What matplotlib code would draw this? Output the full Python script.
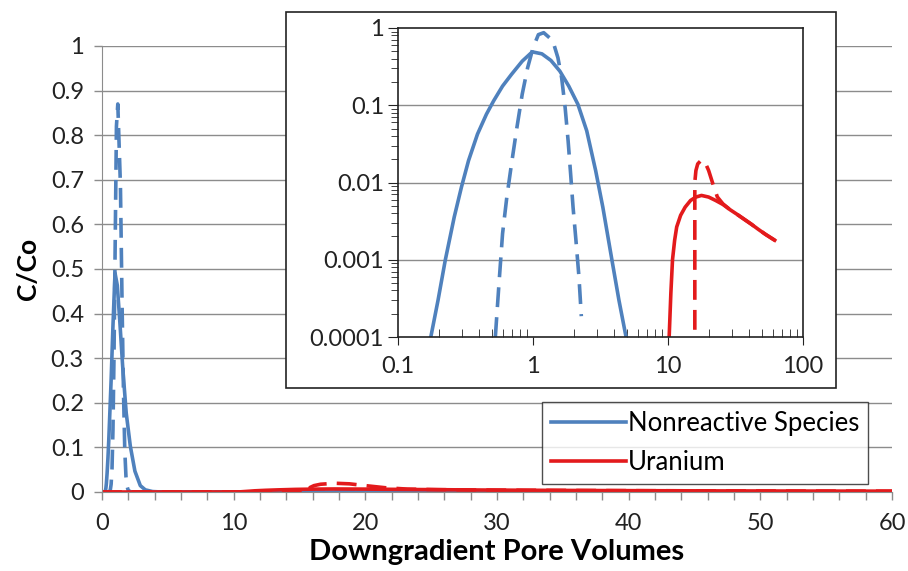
import numpy as np
import matplotlib
matplotlib.use("Agg")
import matplotlib.pyplot as plt
from matplotlib.patches import Rectangle
from matplotlib.lines import Line2D
from matplotlib.ticker import (MultipleLocator, FixedLocator, FixedFormatter, LogLocator,
                               NullFormatter, FuncFormatter)

plt.rcParams['font.family'] = ['Lato', 'DejaVu Sans']

# breakthrough curves: pore volumes vs C/Co
pv_nr_sim = [0.175, 0.198, 0.224, 0.261, 0.295, 0.333, 0.388, 0.452, 0.511, 0.595, 0.693,
             0.832, 0.988, 1.164, 1.358, 1.58, 1.84, 2.15, 2.50, 2.91, 3.29, 3.84, 4.33, 4.89]
cc_nr_sim = [1e-4, 3.0e-4, 0.00099, 0.00358, 0.0087, 0.0192, 0.0423, 0.0766, 0.114, 0.177, 0.251,
             0.372, 0.491, 0.463, 0.38, 0.277, 0.177, 0.103, 0.0467, 0.0143, 0.0048, 0.001, 3.0e-4, 1e-4]

pv_nr_obs = [0.526, 0.56, 0.595, 0.64, 0.693, 0.76, 0.832, 0.912, 1.0, 1.096, 1.2, 1.40, 1.53,
             1.63, 1.73, 1.82, 1.90, 1.98, 2.08, 2.19, 2.28]
cc_nr_obs = [1e-4, 4.95e-4, 0.00218, 0.00648, 0.0174, 0.0515, 0.139, 0.305, 0.553, 0.82, 0.87,
             0.687, 0.411, 0.227, 0.0933, 0.0347, 0.0129, 0.0048, 0.00179, 6.0e-4, 1.86e-4]

pv_u_sim = [10.2, 10.5, 10.8, 11.2, 11.6, 12.4, 13.4, 14.7, 16.1, 17.7, 20.0, 22.5, 25.5, 28.8,
            32.5, 36.7, 41.5, 46.9, 53.0, 61.7]
cc_u_sim = [1e-4, 3.7e-4, 0.001, 0.00179, 0.00266, 0.00376, 0.0048, 0.00586, 0.00648, 0.0068,
            0.00648, 0.00586, 0.0052, 0.00445, 0.00387, 0.00334, 0.00288, 0.00246, 0.00212, 0.00179]

pv_u_obs = [15.8, 15.8, 16.1, 16.6, 17.7, 18.8, 20.0, 21.5, 23.2, 25.5, 28.8, 32.5, 36.7, 41.5,
            46.9, 53.0, 61.7]
cc_u_obs = [1.24e-4, 0.0101, 0.0143, 0.0174, 0.0196, 0.0183, 0.0143, 0.0096, 0.0065, 0.0053,
            0.00445, 0.00387, 0.00334, 0.00288, 0.00246, 0.00212, 0.00179]

blue = '#4F81BD'
red = '#E31A1C'
grid_c = '#8C8C8C'
ink = '#222222'
lw = 2.6
dash = (5.5, 2.8)
tick_fs = 17

W, H = 908, 571
fig = plt.figure(figsize=(W / 100, H / 100), dpi=100)

def px_axes(l, t, r, b):
    return [l / W, 1 - b / H, (r - l) / W, (b - t) / H]

# ---- main linear plot
ax = fig.add_axes(px_axes(102, 46, 892, 492), zorder=0)
ax.plot([0] + pv_nr_sim + [60], [0] + cc_nr_sim + [0], color=blue, lw=lw)
ax.plot([0] + pv_nr_obs + [60], [0] + cc_nr_obs + [0], color=blue, lw=lw, dashes=dash)
ax.plot([0] + pv_u_obs + [60], [0] + cc_u_obs + [0], color=red, lw=lw, dashes=dash)
ax.plot([0] + pv_u_sim + [60], [0] + cc_u_sim + [0], color=red, lw=lw)
ax.set_xlim(0, 60)
ax.set_ylim(0, 1)
ax.xaxis.set_major_locator(MultipleLocator(10))
ax.xaxis.set_minor_locator(MultipleLocator(2))
ax.yaxis.set_major_locator(MultipleLocator(0.1))
ax.yaxis.set_major_formatter(FuncFormatter(lambda v, p: f"{v:g}"))
ax.grid(axis='y', color=grid_c, lw=1.0)
ax.set_axisbelow(True)
for s in ['top', 'right']:
    ax.spines[s].set_visible(False)
for s in ['left', 'bottom']:
    ax.spines[s].set_color(grid_c)
ax.tick_params(which='both', direction='out', color=grid_c, width=1.0, length=6)
ax.tick_params(axis='y', which='major', labelsize=tick_fs, pad=7, labelcolor=ink)
ax.tick_params(axis='x', which='major', labelsize=tick_fs, pad=9, labelcolor=ink)
ax.set_xlabel('Downgradient Pore Volumes', fontsize=21, fontweight='bold', labelpad=4)
ax.set_ylabel('C/Co', fontsize=19, fontweight='bold', labelpad=8)

handles = [Line2D([], [], color=blue, lw=lw), Line2D([], [], color=red, lw=lw)]
leg = ax.legend(handles, ['Nonreactive Species', 'Uranium'], loc='upper left',
                bbox_to_anchor=(542 / W, 1 - 402 / H), bbox_transform=fig.transFigure,
                fontsize=18.5, frameon=True, fancybox=False, handlelength=2.9,
                handletextpad=0.1, borderpad=0.35, labelspacing=0.55, borderaxespad=0)
leg.get_frame().set_edgecolor(ink)
leg.get_frame().set_linewidth(1.0)

# ---- inset log-log plot
box = Rectangle((286 / W, 1 - 388 / H), (836 - 286) / W, (388 - 12) / H,
                transform=fig.transFigure, facecolor='white', edgecolor=ink,
                lw=1.2, zorder=1)
fig.patches.append(box)

ins = fig.add_axes(px_axes(398, 28, 803, 337), zorder=2)
ins.set_xscale('log')
ins.set_yscale('log')
ins.plot(pv_nr_sim, cc_nr_sim, color=blue, lw=lw)
ins.plot(pv_nr_obs, cc_nr_obs, color=blue, lw=lw, dashes=dash)
ins.plot(pv_u_obs, cc_u_obs, color=red, lw=lw, dashes=dash)
ins.plot(pv_u_sim, cc_u_sim, color=red, lw=lw)
ins.set_xlim(0.1, 100)
ins.set_ylim(1e-4, 1)
ins.xaxis.set_major_locator(FixedLocator([0.1, 1, 10, 100]))
ins.xaxis.set_major_formatter(FixedFormatter(['0.1', '1', '10', '100']))
ins.yaxis.set_major_locator(FixedLocator([1e-4, 1e-3, 1e-2, 0.1, 1]))
ins.yaxis.set_major_formatter(FixedFormatter(['0.0001', '0.001', '0.01', '0.1', '1']))
ins.xaxis.set_minor_locator(LogLocator(base=10, subs=np.arange(2, 10)))
ins.yaxis.set_minor_locator(LogLocator(base=10, subs=np.arange(2, 10)))
ins.xaxis.set_minor_formatter(NullFormatter())
ins.yaxis.set_minor_formatter(NullFormatter())
for y in [1e-3, 1e-2, 0.1]:
    ins.axhline(y, color=grid_c, lw=1.0, zorder=0)
for s in ins.spines.values():
    s.set_color(ink)
    s.set_linewidth(1.2)
ins.tick_params(axis='x', which='major', direction='out', length=6, color=ink,
                labelsize=tick_fs, pad=8, labelcolor=ink)
ins.tick_params(axis='x', which='minor', direction='in', length=6, color=ink)
ins.tick_params(axis='y', which='major', direction='out', length=7, color=ink,
                labelsize=tick_fs, pad=3, labelcolor=ink)
ins.tick_params(axis='y', which='minor', direction='out', length=5, color=ink)

fig.savefig('out.png', dpi=100)
